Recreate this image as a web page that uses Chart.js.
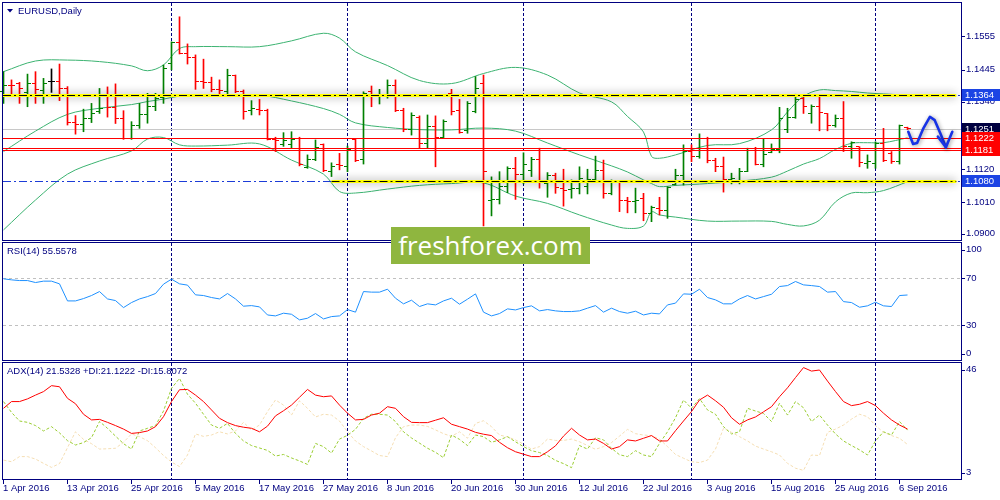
<!DOCTYPE html>
<html>
<head>
<meta charset="utf-8">
<title>EURUSD Daily</title>
<script src="https://cdn.jsdelivr.net/npm/chart.js@4.4.1/dist/chart.umd.min.js"></script>
<style>
    body { margin: 0; background: #fff; }
    #wrap { position: relative; width: 1000px; height: 500px; overflow: hidden; background: #fff; }
    #wrap canvas { position: absolute; left: 0; top: 0; }
    #logo {
        position: absolute; left: 391px; top: 227px; width: 199px; height: 37px;
        background: #8fb63f; color: #fff; font: 26px 'Open Sans', sans-serif;
        line-height: 36px; text-align: center; z-index: 5;
    }
</style>
</head>
<body>
<div id="wrap">
    <canvas id="mainChart" width="1000" height="500"></canvas>
    <canvas id="rsiChart" width="1000" height="500"></canvas>
    <canvas id="adxChart" width="1000" height="500"></canvas>
    <div id="logo">freshforex.com</div>
</div>
<script>
// Eixo do tempo
const tickBars = [0, 8, 16, 24, 32, 40, 48, 56, 64, 72, 80, 88, 96, 104, 112];
const tickLabels = ['1 Apr 2016', '13 Apr 2016', '25 Apr 2016', '5 May 2016', '17 May 2016', '27 May 2016',
    '8 Jun 2016', '20 Jun 2016', '30 Jun 2016', '12 Jul 2016', '22 Jul 2016', '3 Aug 2016',
    '15 Aug 2016', '25 Aug 2016', '6 Sep 2016'];
const monthStarts = [21, 43, 65, 86, 109];

// Barras OHLC diárias
const opens = [
    1.1373, 1.1395, 1.1399, 1.1371, 1.1399, 1.1377, 1.1406, 1.1406, 1.1384, 1.1273,
    1.1267, 1.1286, 1.1307, 1.1359, 1.1323, 1.1286, 1.1220, 1.1264, 1.1299, 1.1324,
    1.1355, 1.1467, 1.1534, 1.1497, 1.1486, 1.1406, 1.1403, 1.1381, 1.1373, 1.1425,
    1.1373, 1.1313, 1.1316, 1.1313, 1.1215, 1.1199, 1.1199, 1.1220, 1.1125, 1.1152,
    1.1199, 1.1110, 1.1136, 1.1127, 1.1217, 1.1152, 1.1373, 1.1357, 1.1359, 1.1395,
    1.1313, 1.1248, 1.1289, 1.1204, 1.1259, 1.1224, 1.1368, 1.1313, 1.1245, 1.1308,
    1.1399, 1.1018, 1.1020, 1.1064, 1.1122, 1.1103, 1.1116, 1.1152, 1.1073, 1.1100,
    1.1057, 1.1051, 1.1057, 1.1062, 1.1086, 1.1116, 1.1038, 1.1075, 1.1018, 1.1013,
    1.1024, 1.0975, 1.0991, 1.0985, 1.1070, 1.1100, 1.1177, 1.1160, 1.1220, 1.1149,
    1.1127, 1.1084, 1.1078, 1.1111, 1.1182, 1.1136, 1.1173, 1.1184, 1.1248, 1.1289,
    1.1352, 1.1302, 1.1326, 1.1302, 1.1261, 1.1286, 1.1193, 1.1193, 1.1139, 1.1139,
    1.1204, 1.1169, 1.1144, 1.1255
];
const highs = [
    1.1439, 1.1412, 1.1404, 1.1431, 1.1439, 1.1417, 1.1448, 1.1464, 1.1390, 1.1295,
    1.1316, 1.1335, 1.1384, 1.1389, 1.1399, 1.1311, 1.1275, 1.1335, 1.1368, 1.1368,
    1.1461, 1.1537, 1.1619, 1.1530, 1.1494, 1.1480, 1.1421, 1.1412, 1.1447, 1.1428,
    1.1379, 1.1344, 1.1348, 1.1316, 1.1224, 1.1239, 1.1242, 1.1224, 1.1166, 1.1215,
    1.1202, 1.1140, 1.1171, 1.1195, 1.1220, 1.1373, 1.1392, 1.1381, 1.1412, 1.1412,
    1.1319, 1.1304, 1.1294, 1.1297, 1.1294, 1.1281, 1.1381, 1.1348, 1.1341, 1.1423,
    1.1428, 1.1094, 1.1111, 1.1127, 1.1158, 1.1173, 1.1158, 1.1188, 1.1108, 1.1106,
    1.1119, 1.1084, 1.1127, 1.1119, 1.1162, 1.1149, 1.1084, 1.1078, 1.1027, 1.1057,
    1.1040, 1.0998, 1.1027, 1.1062, 1.1119, 1.1199, 1.1199, 1.1235, 1.1224, 1.1155,
    1.1159, 1.1106, 1.1122, 1.1188, 1.1191, 1.1220, 1.1202, 1.1322, 1.1319, 1.1365,
    1.1359, 1.1330, 1.1359, 1.1302, 1.1297, 1.1341, 1.1209, 1.1193, 1.1166, 1.1209,
    1.1253, 1.1177, 1.1264, 1.1257
];
const lows = [
    1.1335, 1.1357, 1.1335, 1.1324, 1.1335, 1.1335, 1.1371, 1.1344, 1.1264, 1.1234,
    1.1242, 1.1272, 1.1302, 1.1290, 1.1269, 1.1217, 1.1217, 1.1253, 1.1270, 1.1311,
    1.1335, 1.1445, 1.1497, 1.1464, 1.1381, 1.1384, 1.1373, 1.1357, 1.1366, 1.1370,
    1.1283, 1.1297, 1.1297, 1.1215, 1.1177, 1.1194, 1.1188, 1.1130, 1.1122, 1.1147,
    1.1111, 1.1095, 1.1117, 1.1111, 1.1144, 1.1136, 1.1324, 1.1333, 1.1352, 1.1308,
    1.1242, 1.1231, 1.1188, 1.1188, 1.1127, 1.1222, 1.1297, 1.1237, 1.1237, 1.1304,
    1.0933, 1.0966, 1.1005, 1.1042, 1.1020, 1.1071, 1.1095, 1.1057, 1.1027, 1.1040,
    1.0998, 1.1024, 1.1038, 1.1038, 1.1084, 1.1024, 1.1035, 1.0980, 1.0976, 1.0976,
    1.0950, 1.0947, 1.0969, 1.0958, 1.1067, 1.1067, 1.1144, 1.1155, 1.1140, 1.1111,
    1.1044, 1.1071, 1.1071, 1.1111, 1.1133, 1.1127, 1.1173, 1.1173, 1.1239, 1.1286,
    1.1302, 1.1270, 1.1245, 1.1245, 1.1257, 1.1177, 1.1155, 1.1127, 1.1122, 1.1122,
    1.1144, 1.1138, 1.1136, 1.1249
];
const closes = [
    1.1393, 1.1392, 1.1384, 1.1399, 1.1379, 1.1399, 1.1406, 1.1384, 1.1273, 1.1267,
    1.1286, 1.1302, 1.1317, 1.1323, 1.1287, 1.1220, 1.1264, 1.1299, 1.1324, 1.1352,
    1.1450, 1.1534, 1.1499, 1.1486, 1.1406, 1.1403, 1.1381, 1.1377, 1.1425, 1.1373,
    1.1307, 1.1317, 1.1311, 1.1215, 1.1212, 1.1212, 1.1215, 1.1136, 1.1152, 1.1191,
    1.1114, 1.1127, 1.1130, 1.1184, 1.1149, 1.1368, 1.1357, 1.1359, 1.1395, 1.1313,
    1.1248, 1.1294, 1.1204, 1.1259, 1.1224, 1.1275, 1.1308, 1.1239, 1.1335, 1.1384,
    1.1110, 1.1021, 1.1064, 1.1122, 1.1103, 1.1133, 1.1152, 1.1075, 1.1100, 1.1060,
    1.1049, 1.1057, 1.1089, 1.1084, 1.1116, 1.1038, 1.1075, 1.1018, 1.1013, 1.1018,
    1.0975, 1.0994, 1.0985, 1.1060, 1.1100, 1.1177, 1.1162, 1.1220, 1.1149, 1.1127,
    1.1086, 1.1087, 1.1111, 1.1182, 1.1136, 1.1166, 1.1184, 1.1286, 1.1289, 1.1348,
    1.1326, 1.1326, 1.1304, 1.1261, 1.1286, 1.1193, 1.1206, 1.1140, 1.1144, 1.1202,
    1.1149, 1.1144, 1.1261, 1.1251
];

// Bandas de Bollinger
const bbIdx = [0, 4, 8, 12, 16, 18, 20, 22, 24, 28, 32, 36, 40, 42, 44, 48, 52, 56, 60, 64,
    68, 72, 76, 78, 80, 81, 82, 84, 88, 92, 96, 98, 100, 102, 104, 106, 108, 110, 113];
const bbUpper = [1.1439, 1.1474, 1.1477, 1.1472, 1.1458, 1.1442, 1.1461, 1.1515, 1.1521, 1.1521,
    1.1521, 1.1540, 1.1565, 1.1549, 1.1504, 1.1459, 1.1410, 1.1400, 1.1433, 1.1453,
    1.1428, 1.1369, 1.1340, 1.1292, 1.1241, 1.1161, 1.1155, 1.1166, 1.1197, 1.1203,
    1.1248, 1.1307, 1.1358, 1.1379, 1.1377, 1.1374, 1.1369, 1.1366, 1.1362];
const bbMiddle = [1.1177, 1.1244, 1.1299, 1.1319, 1.1331, 1.1341, 1.1349, 1.1359, 1.1362, 1.1362,
    1.1362, 1.1343, 1.1318, 1.1299, 1.1271, 1.1256, 1.1249, 1.1248, 1.1254, 1.1244,
    1.1205, 1.1166, 1.1130, 1.1110, 1.1084, 1.1072, 1.1062, 1.1066, 1.1072, 1.1080,
    1.1093, 1.1113, 1.1136, 1.1154, 1.1184, 1.1204, 1.1206, 1.1206, 1.1222];
const bbLower = [1.0920, 1.1018, 1.1103, 1.1146, 1.1179, 1.1218, 1.1223, 1.1199, 1.1195, 1.1198,
    1.1202, 1.1149, 1.1103, 1.1046, 1.1041, 1.1054, 1.1066, 1.1072, 1.1074, 1.1031,
    1.1007, 1.0969, 1.0936, 1.0925, 1.0933, 1.0979, 1.0969, 1.0962, 1.0949, 1.0949,
    1.0948, 1.0938, 1.0933, 1.0952, 1.1012, 1.1041, 1.1042, 1.1049, 1.1078];

// RSI(14)
const rsi = [
    69.4, 68.5, 67.9, 67.9, 66.2, 67.4, 67.4, 65.1, 50.5, 50.5,
    52.5, 55.1, 58.5, 52.2, 50.8, 44.8, 49.1, 52.2, 54.2, 56.8,
    64.8, 69.1, 65.1, 64.0, 55.7, 55.1, 53.4, 52.2, 56.8, 52.2,
    46.0, 46.5, 45.4, 38.5, 37.7, 40.0, 39.1, 34.3, 35.7, 39.7,
    35.1, 37.1, 37.7, 43.1, 40.9, 58.5, 58.0, 58.0, 60.5, 52.8,
    48.0, 51.1, 45.7, 48.0, 47.1, 50.5, 52.8, 47.7, 52.0, 56.5,
    40.9, 37.7, 39.7, 43.7, 42.8, 44.8, 46.3, 42.0, 43.1, 42.0,
    41.4, 41.4, 42.0, 44.3, 46.5, 40.9, 44.3, 41.4, 40.0, 41.7,
    38.5, 40.0, 39.4, 47.1, 48.6, 56.5, 56.2, 60.5, 53.4, 51.4,
    48.0, 48.0, 52.2, 55.1, 52.2, 54.2, 56.2, 62.8, 63.6, 67.1,
    64.2, 63.6, 62.8, 58.0, 58.5, 49.9, 49.1, 45.1, 46.3, 49.4,
    46.3, 45.7, 55.1, 55.56
];

// ADX(14), +DI, -DI
const adx = [
    29.2, 31.7, 31.7, 32.7, 34.1, 35.4, 37.6, 37.2, 32.9, 30.9,
    27.0, 24.9, 25.1, 24.0, 22.8, 21.5, 19.9, 20.2, 20.8, 22.4,
    26.1, 31.7, 36.1, 36.2, 34.1, 31.7, 28.6, 25.5, 23.9, 22.8,
    22.2, 21.8, 20.5, 22.6, 26.4, 28.3, 30.4, 33.3, 36.2, 34.1,
    33.5, 33.8, 30.4, 27.4, 24.9, 25.1, 26.7, 27.4, 29.8, 29.2,
    26.1, 24.0, 23.9, 23.9, 24.8, 25.7, 23.3, 22.4, 21.5, 20.3,
    19.6, 19.1, 16.6, 14.6, 13.1, 12.2, 11.3, 11.3, 13.1, 15.3,
    18.9, 21.8, 19.3, 17.5, 17.8, 16.2, 14.1, 15.0, 17.5, 17.1,
    18.1, 19.1, 17.1, 17.1, 20.9, 24.5, 28.0, 32.3, 34.1, 32.0,
    29.6, 25.7, 23.3, 24.9, 26.0, 27.9, 29.8, 33.5, 36.8, 40.6,
    44.3, 43.0, 43.4, 39.3, 35.4, 31.7, 30.2, 30.7, 31.7, 30.2,
    27.4, 24.9, 23.0, 21.53
];
const plusDi = [
    31.7, 27.7, 24.5, 24.0, 22.8, 20.8, 22.4, 20.1, 17.2, 15.6,
    16.5, 18.3, 24.3, 21.8, 18.9, 16.1, 14.1, 20.8, 21.8, 22.8,
    28.2, 36.6, 40.3, 34.4, 31.1, 27.0, 23.0, 21.8, 23.6, 19.9,
    17.1, 15.4, 14.5, 13.6, 11.5, 12.1, 10.8, 9.7, 8.4, 16.2,
    15.0, 12.6, 17.8, 19.2, 21.4, 25.5, 27.0, 27.0, 26.7, 24.3,
    20.5, 18.2, 16.3, 14.4, 12.9, 10.9, 19.3, 17.7, 15.4, 19.3,
    18.7, 16.6, 17.5, 18.7, 16.8, 15.0, 13.5, 12.8, 11.7, 9.9,
    8.7, 7.2, 15.4, 14.1, 18.3, 17.5, 14.4, 12.0, 11.3, 13.5,
    11.9, 11.3, 16.2, 20.5, 25.7, 32.3, 29.2, 32.8, 28.6, 27.0,
    22.4, 19.7, 20.5, 29.2, 28.2, 27.3, 24.3, 31.1, 26.7, 31.7,
    29.4, 24.3, 26.7, 23.0, 19.7, 17.1, 15.4, 13.8, 11.9, 17.1,
    20.5, 19.3, 24.3, 21.12
];
const minusDi = [
    10.0, 9.4, 11.3, 11.3, 10.4, 8.8, 7.3, 8.7, 14.6, 20.5,
    17.7, 16.1, 14.1, 14.2, 14.4, 16.6, 19.7, 18.7, 17.2, 14.6,
    11.7, 9.3, 7.6, 11.9, 19.7, 18.8, 19.3, 20.5, 19.7, 20.8,
    24.0, 21.2, 23.0, 28.0, 32.3, 30.4, 26.7, 32.0, 29.2, 26.0,
    27.0, 26.7, 24.5, 20.5, 17.1, 15.0, 13.4, 11.7, 11.3, 18.3,
    22.4, 23.0, 23.0, 22.5, 21.2, 19.8, 18.8, 20.5, 18.1, 23.6,
    24.6, 22.4, 19.3, 18.6, 17.5, 15.9, 14.1, 15.0, 17.8, 17.3,
    17.3, 17.8, 16.8, 15.4, 14.0, 15.0, 16.5, 18.9, 21.4, 19.8,
    19.3, 19.1, 17.8, 15.0, 12.1, 10.7, 9.4, 9.1, 10.0, 14.1,
    21.8, 20.3, 18.7, 17.1, 15.2, 14.1, 13.1, 11.9, 8.8, 7.0,
    6.2, 11.9, 11.7, 20.3, 21.5, 23.0, 25.2, 27.0, 26.1, 22.8,
    20.3, 19.1, 18.1, 15.81
];

// Escalas e níveis
const priceTicks = [1.1555, 1.1445, 1.1340, 1.1120, 1.1010, 1.0900];
const rsiTicks = [100, 70, 30, 0];
const rsiLevels = [70, 30];
const adxTicks = [46, 3];
const redLevels = [1.1222, 1.1188, 1.1181];
const bidPrice = 1.1251;
const blueLevels = [1.1364, 1.1080];
const yellowLevels = [1.1364, 1.1080];
const yellowStart = [-0.0625, 41];
const yellowEnd = 119.1;
const priceBadges = [
    { value: 1.1364, bg: '#1c44e4' },
    { value: 1.1080, bg: '#1c44e4' },
    { value: 1.1251, bg: '#000040' },
    { value: 1.1222, bg: '#ff0000' },
    { value: 1.1181, bg: '#ff0000' }
];
// Seta desenhada à mão (barra, preço)
const arrowPath = [[113.1, 1.1242], [113.7, 1.1202], [114.2, 1.1205], [115.0, 1.1254],
    [115.8, 1.1291], [116.4, 1.1280], [117.1, 1.1237], [117.8, 1.1191]];
const arrowHead = [[116.8, 1.1226], [117.8, 1.1191], [118.6, 1.1242]];

const NAVY = '#000080';
const FONT = "9.5px 'Liberation Sans', Arial, sans-serif";
const X_MIN = -0.0625;
const X_MAX = 119.6875;

function xAxis() {
    return { type: 'linear', min: X_MIN, max: X_MAX, display: false, offset: false };
}

function fmtPrice(v) { return v.toFixed(4); }

// Moldura, separadores, escala da direita e título de cada painel
function panelDecor(cfg) {
    return {
        id: 'panelDecor',
        beforeDatasetsDraw(chart) {
            const { ctx, chartArea: ca, scales: { x, y } } = chart;
            ctx.save();
            ctx.lineWidth = 1;
            (cfg.levels || []).forEach(v => {
                const py = Math.round(y.getPixelForValue(v)) + 0.5;
                ctx.strokeStyle = '#c0c0c0';
                ctx.setLineDash([3, 3]);
                ctx.beginPath();
                ctx.moveTo(ca.left, py);
                ctx.lineTo(ca.right, py);
                ctx.stroke();
            });
            ctx.strokeStyle = NAVY;
            ctx.setLineDash([3, 2]);
            monthStarts.forEach(b => {
                const px = Math.floor(x.getPixelForValue(b)) + 0.5;
                ctx.beginPath();
                ctx.moveTo(px, ca.top);
                ctx.lineTo(px, ca.bottom);
                ctx.stroke();
            });
            ctx.restore();
        },
        afterDraw(chart) {
            const { ctx, chartArea: ca, scales: { y } } = chart;
            ctx.save();
            ctx.strokeStyle = NAVY;
            ctx.lineWidth = 1;
            ctx.strokeRect(ca.left - 0.5, ca.top - 0.5, ca.right - ca.left + 1, ca.bottom - ca.top + 1);

            ctx.font = FONT;
            ctx.fillStyle = NAVY;
            ctx.textBaseline = 'middle';
            ctx.textAlign = 'left';
            cfg.ticks.forEach(v => {
                let py = y.getPixelForValue(v);
                py = Math.min(Math.max(py, ca.top + 6.5), ca.bottom - 6.5);
                ctx.beginPath();
                ctx.moveTo(ca.right + 0.5, Math.round(py) + 0.5);
                ctx.lineTo(ca.right + 4, Math.round(py) + 0.5);
                ctx.stroke();
                ctx.fillText(cfg.format ? cfg.format(v) : String(v), ca.right + 5, py);
            });

            ctx.fillText(cfg.title, cfg.titleX, ca.top + 8.5);
            ctx.restore();
        }
    };
}

// Ticks de abertura/fecho, linhas horizontais, seta e etiquetas de preço
const priceObjects = {
    id: 'priceObjects',
    beforeDatasetsDraw(chart) {
        const { ctx, chartArea: ca, scales: { y } } = chart;
        const py = Math.round(y.getPixelForValue(bidPrice)) + 0.5;
        ctx.save();
        ctx.strokeStyle = '#c8c8c8';
        ctx.lineWidth = 1;
        ctx.beginPath();
        ctx.moveTo(ca.left, py);
        ctx.lineTo(ca.right, py);
        ctx.stroke();
        ctx.restore();
    },
    afterDatasetsDraw(chart) {
        const { ctx, chartArea: ca, scales: { x, y } } = chart;
        ctx.save();
        // ticks OHLC
        opens.forEach((o, i) => {
            const c = closes[i];
            ctx.fillStyle = c > o ? '#008000' : (c < o ? '#ff0000' : '#000000');
            const col = Math.floor(x.getPixelForValue(i));
            ctx.fillRect(col - 3, Math.floor(y.getPixelForValue(o)), 3, 1);
            ctx.fillRect(col + 1, Math.floor(y.getPixelForValue(c)), 3, 1);
        });

        // linhas vermelhas
        ctx.strokeStyle = '#ff0000';
        ctx.lineWidth = 1.2;
        redLevels.forEach(v => {
            const py = Math.round(y.getPixelForValue(v)) + 0.5;
            ctx.beginPath();
            ctx.moveTo(ca.left, py);
            ctx.lineTo(ca.right, py);
            ctx.stroke();
        });

        // linhas azuis traço-ponto
        ctx.strokeStyle = '#1c3cd8';
        ctx.lineWidth = 1;
        ctx.setLineDash([8, 3, 2, 3]);
        blueLevels.forEach(v => {
            const py = Math.round(y.getPixelForValue(v)) + 0.5;
            ctx.beginPath();
            ctx.moveTo(ca.left, py);
            ctx.lineTo(ca.right, py);
            ctx.stroke();
        });

        // linhas amarelas com sombra
        yellowLevels.forEach((v, k) => {
            const py = Math.round(y.getPixelForValue(v)) + 0.5;
            const x0 = Math.max(ca.left, x.getPixelForValue(yellowStart[k]));
            const x1 = x.getPixelForValue(yellowEnd);
            ctx.save();
            ctx.setLineDash([]);
            ctx.shadowColor = 'rgba(0,0,0,0.45)';
            ctx.shadowBlur = 9;
            ctx.strokeStyle = '#ffff00';
            ctx.lineWidth = 3;
            ctx.beginPath();
            ctx.moveTo(x0, py);
            ctx.lineTo(x1, py);
            ctx.stroke();
            ctx.restore();
            ctx.save();
            ctx.strokeStyle = '#000000';
            ctx.lineWidth = 1;
            ctx.setLineDash([8, 3, 2, 3]);
            ctx.beginPath();
            ctx.moveTo(x0, py);
            ctx.lineTo(x1, py);
            ctx.stroke();
            ctx.restore();
        });

        // seta azul
        ctx.setLineDash([]);
        ctx.shadowColor = 'rgba(0,0,0,0.4)';
        ctx.shadowBlur = 4;
        ctx.shadowOffsetX = 1;
        ctx.shadowOffsetY = 1;
        ctx.strokeStyle = '#1733e6';
        ctx.lineWidth = 2.6;
        ctx.lineJoin = 'round';
        ctx.lineCap = 'round';
        [arrowPath, arrowHead].forEach(path => {
            ctx.beginPath();
            path.forEach(([b, v], k) => {
                const px = x.getPixelForValue(b);
                const py = y.getPixelForValue(v);
                if (k === 0) ctx.moveTo(px, py); else ctx.lineTo(px, py);
            });
            ctx.stroke();
        });
        ctx.restore();
    },
    afterDraw(chart) {
        const { ctx, chartArea: ca, scales: { y } } = chart;
        ctx.save();
        ctx.font = FONT;
        ctx.textBaseline = 'middle';
        priceBadges.forEach(b => {
            const py = Math.round(y.getPixelForValue(b.value));
            ctx.fillStyle = b.bg;
            ctx.fillRect(ca.right + 1, py - 6, 39, 12);
            ctx.fillStyle = '#ffffff';
            ctx.fillText(fmtPrice(b.value), ca.right + 4, py + 0.5);
        });
        // triângulo do título
        ctx.fillStyle = NAVY;
        ctx.beginPath();
        ctx.moveTo(7, 9);
        ctx.lineTo(13, 9);
        ctx.lineTo(10, 12.5);
        ctx.closePath();
        ctx.fill();
        ctx.restore();
    }
};

// Etiquetas de datas por baixo do último painel
const timeAxis = {
    id: 'timeAxis',
    afterDraw(chart) {
        const { ctx, chartArea: ca, scales: { x } } = chart;
        ctx.save();
        ctx.strokeStyle = NAVY;
        ctx.fillStyle = NAVY;
        ctx.lineWidth = 1;
        ctx.font = FONT;
        ctx.textBaseline = 'middle';
        ctx.textAlign = 'left';
        tickBars.forEach((b, k) => {
            const px = Math.floor(x.getPixelForValue(b)) + 0.5;
            ctx.beginPath();
            ctx.moveTo(px, ca.bottom + 0.5);
            ctx.lineTo(px, ca.bottom + 5);
            ctx.stroke();
            ctx.fillText(tickLabels[k], px - 0.5, ca.bottom + 9.5);
        });
        ctx.restore();
    }
};

Chart.defaults.font.family = "'Liberation Sans', Arial, sans-serif";

const commonOptions = (padding, yMin, yMax) => ({
    responsive: false,
    animation: false,
    events: [],
    layout: { padding },
    scales: {
        x: xAxis(),
        y: { type: 'linear', min: yMin, max: yMax, display: false }
    },
    plugins: { legend: { display: false }, tooltip: { enabled: false } }
});

const barColors = opens.map((o, i) => closes[i] > o ? '#008000' : (closes[i] < o ? '#ff0000' : '#000000'));
const bandLine = (vals) => ({
    type: 'line',
    data: bbIdx.map((b, k) => ({ x: b, y: vals[k] })),
    borderColor: '#3cb371',
    borderWidth: 1,
    pointRadius: 0,
    tension: 0.35,
    order: 2
});

// Painel principal
new Chart(document.getElementById('mainChart'), {
    type: 'bar',
    data: {
        datasets: [
            bandLine(bbUpper),
            bandLine(bbMiddle),
            bandLine(bbLower),
            {
                type: 'bar',
                label: 'EURUSD',
                data: highs.map((h, i) => ({ x: i, y: [lows[i], h] })),
                backgroundColor: barColors,
                barThickness: 1,
                borderWidth: 0,
                borderSkipped: false,
                order: 1
            }
        ]
    },
    options: commonOptions({ left: 3, right: 39, top: 3, bottom: 260 }, 1.08869, 1.16642),
    plugins: [panelDecor({ ticks: priceTicks, format: fmtPrice, title: 'EURUSD,Daily', titleX: 18 }), priceObjects]
});

// Painel RSI
new Chart(document.getElementById('rsiChart'), {
    type: 'line',
    data: {
        datasets: [{
            data: rsi.map((v, i) => ({ x: i, y: v })),
            borderColor: '#1e90ff',
            borderWidth: 1,
            pointRadius: 0,
            tension: 0
        }]
    },
    options: commonOptions({ left: 3, right: 39, top: 243, bottom: 140 }, 0, 100),
    plugins: [panelDecor({ ticks: rsiTicks, levels: rsiLevels, title: 'RSI(14) 55.5578', titleX: 7 })]
});

// Painel ADX
new Chart(document.getElementById('adxChart'), {
    type: 'line',
    data: {
        datasets: [
            {
                data: minusDi.map((v, i) => ({ x: i, y: v })),
                borderColor: '#f5deb3', borderWidth: 1, borderDash: [3, 2], pointRadius: 0, order: 3
            },
            {
                data: plusDi.map((v, i) => ({ x: i, y: v })),
                borderColor: '#9acd32', borderWidth: 1, borderDash: [3, 2], pointRadius: 0, order: 2
            },
            {
                data: adx.map((v, i) => ({ x: i, y: v })),
                borderColor: '#ff0000', borderWidth: 1, pointRadius: 0, order: 1
            }
        ]
    },
    options: commonOptions({ left: 3, right: 39, top: 363, bottom: 21 }, 3, 46),
    plugins: [panelDecor({ ticks: adxTicks, title: 'ADX(14) 21.5328 +DI:21.1222 -DI:15.8072', titleX: 7 }), timeAxis]
});
</script>
</body>
</html>
